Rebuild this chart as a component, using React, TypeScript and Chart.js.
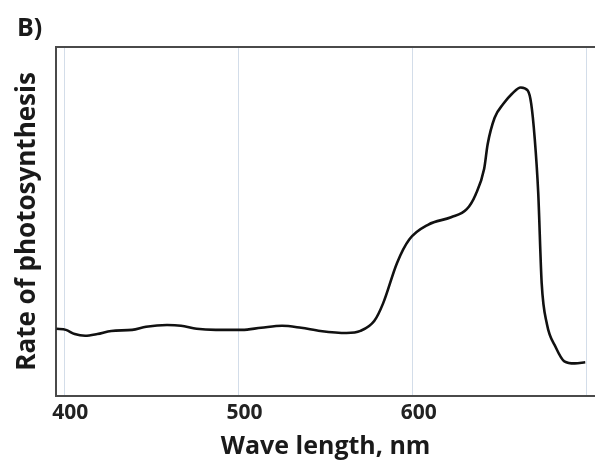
import React, { useEffect, useRef } from "react";
import { Chart, registerables } from "chart.js";

Chart.register(...registerables);

const wavelengths = [
  395.5, 401, 406, 412, 419, 427, 439, 447, 459, 467, 476, 487, 502, 513, 525, 536, 547, 562, 570,
  578, 583, 591, 598, 609, 622, 631, 636, 641, 643, 647, 652, 657, 662, 666, 668, 670, 672, 674,
  677, 682, 687, 693, 699,
];
const rates = [
  19.2, 18.9, 17.7, 17.2, 17.7, 18.6, 18.9, 19.8, 20.3, 20.1, 19.2, 18.9, 18.9, 19.5, 20.1, 19.5,
  18.6, 18.0, 18.6, 21.5, 26.5, 38.1, 44.8, 49.1, 51.2, 53.5, 57.6, 65.1, 72.1, 79.7, 83.7, 86.6,
  88.4, 87.5, 83.7, 73.8, 58.4, 32.3, 20.6, 14.0, 9.9, 9.3, 9.6,
];
const xTicks = [400, 500, 600, 700];
const xTickLabels = ["400", "500", "600", ""];
const panelLabel = "B)";
const xTitle = "Wave length, nm";
const yTitle = "Rate of photosynthesis";

const FONT = "'Open Sans', Lato, sans-serif";

export default function App() {
  const ref = useRef<HTMLCanvasElement | null>(null);

  useEffect(() => {
    const canvas = ref.current;
    if (!canvas) return;
    const extras = {
      id: "extras",
      afterDraw(chart: any) {
        const { ctx, chartArea } = chart;
        ctx.save();
        ctx.strokeStyle = "#4a4a4a";
        ctx.lineWidth = 2;
        ctx.beginPath();
        ctx.moveTo(chartArea.left - 1, chartArea.top);
        ctx.lineTo(chartArea.right, chartArea.top);
        ctx.stroke();
        ctx.fillStyle = "#1a1a1a";
        ctx.font = `bold 25px ${FONT}`;
        ctx.textAlign = "left";
        ctx.textBaseline = "alphabetic";
        ctx.fillText(panelLabel, 17, 36);
        ctx.restore();
      },
    };
    const chart = new Chart(canvas, {
      type: "line",
      data: {
        datasets: [
          {
            data: wavelengths.map((w, i) => ({ x: w, y: rates[i] })),
            borderColor: "#111111",
            borderWidth: 2.6,
            pointRadius: 0,
            cubicInterpolationMode: "monotone",
            fill: false,
          },
        ],
      },
      options: {
        animation: false,
        responsive: false,
        layout: { padding: { top: 47, left: 11, right: 0, bottom: 0 } },
        plugins: { legend: { display: false }, tooltip: { enabled: false } },
        scales: {
          x: {
            type: "linear",
            min: 395.4,
            max: 704.6,
            afterBuildTicks: (axis: any) => {
              axis.ticks = xTicks.map((v) => ({ value: v }));
            },
            grid: { display: true, color: "#d3dde9", lineWidth: 1, drawTicks: false },
            border: { display: true, color: "#4a4a4a", width: 2 },
            ticks: {
              padding: 5,
              labelOffset: 6,
              color: "#222",
              font: { family: FONT, size: 21, weight: "bold" },
              maxRotation: 0,
              autoSkip: false,
              callback: (v: any) => {
                const i = xTicks.indexOf(Number(v));
                return i >= 0 ? xTickLabels[i] : "";
              },
            },
            title: {
              display: true,
              text: xTitle,
              color: "#1a1a1a",
              font: { family: FONT, size: 25, weight: "bold" },
              padding: { top: 1, bottom: 0 },
            },
          },
          y: {
            min: 0,
            max: 100,
            grid: { display: false, drawTicks: false },
            border: { display: true, color: "#4a4a4a", width: 2 },
            ticks: { display: false },
            title: {
              display: true,
              text: yTitle,
              color: "#1a1a1a",
              font: { family: FONT, size: 26, weight: "bold" },
              padding: { top: 1, bottom: 13 },
            },
          },
        },
      },
      plugins: [extras],
    });
    return () => chart.destroy();
  }, []);

  return (
    <div style={{ position: "absolute", left: 0, top: 0, width: 595, height: 462, background: "#fff" }}>
      <canvas ref={ref} width={595} height={462} style={{ display: "block" }} />
    </div>
  );
}
